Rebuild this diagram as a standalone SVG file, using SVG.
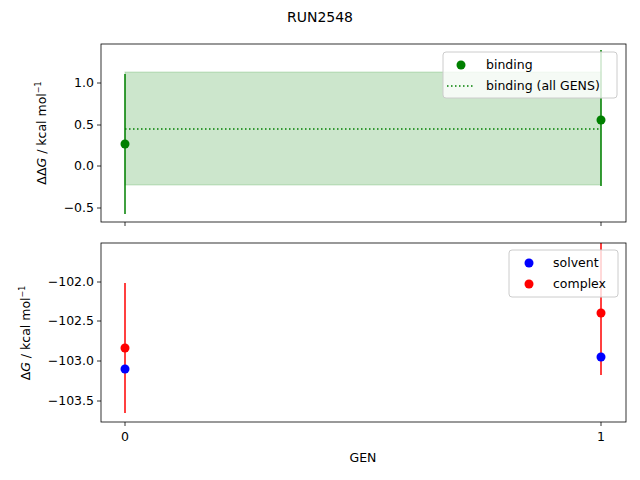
<svg xmlns="http://www.w3.org/2000/svg" width="640" height="480" viewBox="0 0 640 480">
<style>
text{font-family:"DejaVu Sans",sans-serif;font-size:12.5px;fill:#000}
.ax{fill:none;stroke:#000;stroke-width:0.8}
.tk{stroke:#000;stroke-width:0.8}
</style>
<rect width="640" height="480" fill="#fff"/>
<text x="320" y="22" text-anchor="middle" style="font-size:14px">RUN2548</text>
<g id="top">
<rect x="125" y="72" width="476" height="113" fill="#008000" fill-opacity="0.2" stroke="#008000" stroke-opacity="0.2"/>
<line x1="125" y1="129" x2="601" y2="129" stroke="#008000" stroke-width="1.5" stroke-dasharray="1.5,2.5"/>
<line x1="125" y1="74" x2="125" y2="214" stroke="#008000" stroke-width="1.5"/>
<line x1="601" y1="50" x2="601" y2="186" stroke="#008000" stroke-width="1.5"/>
<circle cx="125" cy="144" r="4.5" fill="#008000"/>
<circle cx="601" cy="120" r="4.5" fill="#008000"/>
<rect class="ax" x="101" y="44" width="525" height="178"/>
<g class="tk"><line x1="97" y1="83" x2="101" y2="83"/><line x1="97" y1="125" x2="101" y2="125"/><line x1="97" y1="166" x2="101" y2="166"/><line x1="97" y1="208" x2="101" y2="208"/><line x1="125" y1="222" x2="125" y2="226"/><line x1="601" y1="222" x2="601" y2="226"/></g>
<g text-anchor="end"><text x="94" y="87">1.0</text><text x="94" y="129">0.5</text><text x="94" y="170">0.0</text><text x="94" y="212">−0.5</text></g>
<text transform="translate(46,133) rotate(-90)" text-anchor="middle">ΔΔ<tspan font-style="italic">G</tspan> / kcal mol<tspan font-size="8" dy="-5">−1</tspan></text>
<rect x="443" y="52" width="174" height="46" rx="3" fill="#fff" fill-opacity="0.8" stroke="#ccc"/>
<circle cx="461" cy="65" r="4.5" fill="#008000"/>
<text x="486" y="69">binding</text>
<line x1="447" y1="86" x2="475" y2="86" stroke="#008000" stroke-width="1.5" stroke-dasharray="1.5,2.5"/>
<text x="486" y="90">binding (all GENS)</text>
</g>
<g id="bottom">
<line x1="125" y1="283" x2="125" y2="413" stroke="#f00" stroke-width="1.5"/>
<line x1="601" y1="243" x2="601" y2="375" stroke="#f00" stroke-width="1.5"/>
<circle cx="125" cy="369" r="4.5" fill="#00f"/>
<circle cx="601" cy="357" r="4.5" fill="#00f"/>
<circle cx="125" cy="348" r="4.5" fill="#f00"/>
<circle cx="601" cy="313" r="4.5" fill="#f00"/>
<rect class="ax" x="101" y="243" width="525" height="179"/>
<g class="tk"><line x1="97" y1="282" x2="101" y2="282"/><line x1="97" y1="321" x2="101" y2="321"/><line x1="97" y1="361" x2="101" y2="361"/><line x1="97" y1="401" x2="101" y2="401"/><line x1="125" y1="422" x2="125" y2="426"/><line x1="601" y1="422" x2="601" y2="426"/></g>
<g text-anchor="end"><text x="94" y="286">−102.0</text><text x="94" y="325">−102.5</text><text x="94" y="365">−103.0</text><text x="94" y="405">−103.5</text></g>
<text x="125" y="441" text-anchor="middle">0</text><text x="601" y="441" text-anchor="middle">1</text>
<text x="363" y="462" text-anchor="middle">GEN</text>
<text transform="translate(30,333) rotate(-90)" text-anchor="middle">Δ<tspan font-style="italic">G</tspan> / kcal mol<tspan font-size="8" dy="-5">−1</tspan></text>
<rect x="509" y="250" width="109" height="47" rx="3" fill="#fff" fill-opacity="0.8" stroke="#ccc"/>
<circle cx="529" cy="263" r="4.5" fill="#00f"/>
<text x="553" y="267">solvent</text>
<circle cx="529" cy="284" r="4.5" fill="#f00"/>
<text x="553" y="288">complex</text>
</g>
</svg>
